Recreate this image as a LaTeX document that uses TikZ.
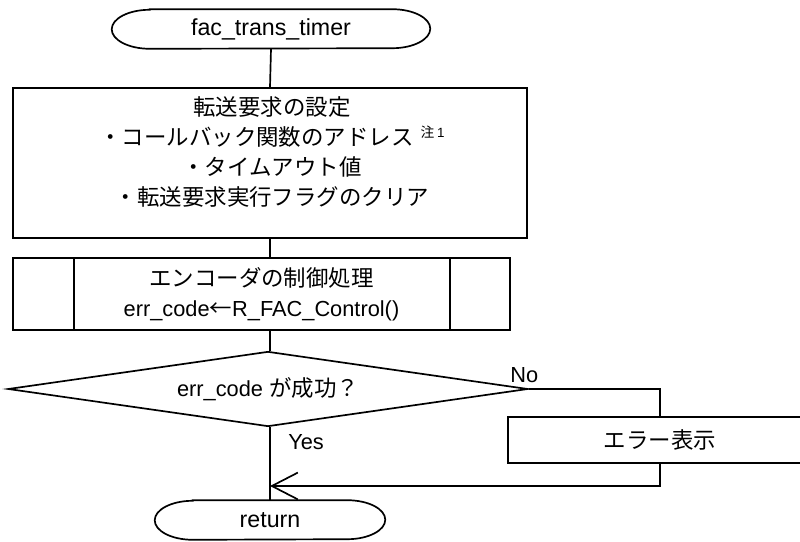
\documentclass[tikz,border=0pt]{standalone}
\usepackage{fontspec}
\setmainfont{Liberation Sans}
\newfontfamily\jp[Scale=1.03]{Noto Sans CJK JP}
\usetikzlibrary{arrows.meta, shapes.geometric, calc}

% outline of a terminal node: flat top and bottom, elliptic ends
\newcommand{\termline}[1]{%
  \draw[line width=1.2pt] ($(#1.north west)+(0.95,0)$) -- ($(#1.north east)-(0.95,0)$)
    arc[start angle=90, end angle=-90, x radius=0.95, y radius=0.4875]
    -- ($(#1.south west)+(0.95,0)$)
    arc[start angle=270, end angle=90, x radius=0.95, y radius=0.4875] -- cycle;}

\begin{document}
\begin{tikzpicture}[
    font=\fontsize{15.5}{21.5}\selectfont,
    term/.style={minimum height=0.975cm, inner sep=0, font=\fontsize{16.5}{20}\selectfont},
    proc/.style={draw, line width=1.2pt, inner sep=0, align=center},
    cond/.style={draw, line width=1.2pt, diamond, aspect=6.93, inner sep=0},
    flow/.style={line width=1.2pt}
  ]
  \useasboundingbox (0,0) rectangle (20,-13.55);

  % Start
  \node[term, minimum width=7.95cm] (start) at (6.775,-0.725) {fac\_trans\_timer};
  \termline{start}

  % Settings
  \node[proc, minimum width=12.85cm, minimum height=3.75cm] (setup) at (6.75,-4.075) {};
  \node[align=center, inner sep=0] (setuptext) at (6.8,-3.8)
    {{\jp 転送要求の設定}\\
     {\jp ・コールバック関数のアドレス}\hspace{5pt}\raisebox{0.7ex}{\fontsize{9.5}{9.5}\selectfont\jp 注\hspace{2pt}\rmfamily 1}\\
     {\jp ・タイムアウト値}\\
     {\jp ・転送要求実行フラグのクリア}};

  % Encoder control (predefined process)
  \node[proc, minimum width=12.425cm, minimum height=1.8cm] (ctrl) at (6.5375,-7.35)
    {{\jp エンコーダの制御処理}\\
     err\_code{\jp ←}R\_FAC\_Control()};
  \draw[flow] ($(ctrl.north west)+(1.55,0)$) -- ($(ctrl.south west)+(1.55,0)$);
  \draw[flow] ($(ctrl.north east)-(1.525,0)$) -- ($(ctrl.south east)-(1.525,0)$);

  % Check
  \node[cond, minimum width=13cm, minimum height=1.875cm] (check) at (6.7,-9.725)
    {err\_code {\jp が成功？}};

  % Error
  \node[proc, minimum width=7.6cm, minimum height=1.15cm] (err) at (16.5,-11.0)
    {\jp エラー表示};

  % Return
  \node[term, minimum width=5.75cm] (ret) at (6.75,-13.0) {return};
  \termline{ret}

  \coordinate (join) at (6.75,-12.15);

  % Connectors
  \draw[flow] (start.south) -- (setup.north);
  \draw[flow] (setup.south) -- (setup.south |- ctrl.north);
  \draw[flow] (setup.south |- ctrl.south) -- (check.north -| setup.south);
  \draw[flow] (check.south -| setup.south) -- (ret.north);
  \draw[flow] (check.east) -| (err.north);
  \draw[flow, -{Straight Barb[length=0.65cm, width=0.67cm]}] (err.south) |- (join);

  % Labels
  \node[anchor=south west, inner sep=0] (no) at (12.75,-9.58) {No};
  \node[anchor=west, inner sep=0] (yes) at (7.2,-11.05) {Yes};
\end{tikzpicture}
\end{document}
